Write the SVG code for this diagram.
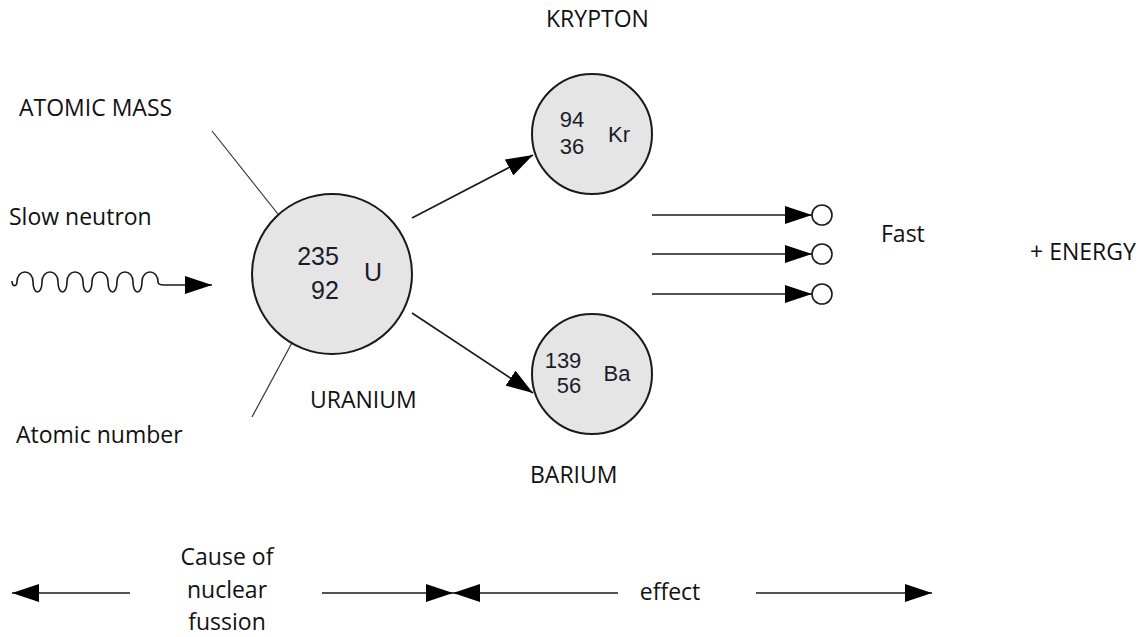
<svg xmlns="http://www.w3.org/2000/svg" width="1142" height="637" viewBox="0 0 1142 637">
<style>
.lbl{font-family:"Open Sans","Liberation Sans",sans-serif;font-size:23px;fill:#111}
.num{font-family:"Liberation Sans",Arial,sans-serif;fill:#1b1b2a}
.atom{fill:#e5e5e5;stroke:#1a1a1a;stroke-width:2}
.ln{stroke:#1a1a1a;stroke-width:1.6;fill:none}
.thin{stroke:#333;stroke-width:1.2;fill:none}
.small{fill:#fff;stroke:#1a1a1a;stroke-width:1.6}
</style>
<defs>
<marker id="ah" markerUnits="userSpaceOnUse" markerWidth="28" markerHeight="18" refX="27" refY="9" orient="auto" viewBox="0 0 28 18">
<path d="M0,0 L27,9 L0,18 z" fill="#000"/>
</marker>
</defs>
<rect width="1142" height="637" fill="#fff"/>

<g id="connectors">
<path class="ln" marker-end="url(#ah)" d="M12,281 c0,6 5,6 5,1 c0,-13.3 16,-13.3 16,0 c0,13.3 9,13.3 9,0 c0,-13.3 16,-13.3 16,0 c0,13.3 9,13.3 9,0 c0,-13.3 16,-13.3 16,0 c0,13.3 9,13.3 9,0 c0,-13.3 16,-13.3 16,0 c0,13.3 9,13.3 9,0 c0,-13.3 16,-13.3 16,0 c0,13.3 9,13.3 9,0 c0,-13.3 16,-13.3 16,0 c0,3 3,3 6,3 L212,285"/>
<line class="thin" x1="212" y1="131" x2="293" y2="233"/>
<line class="thin" x1="308" y1="313" x2="252" y2="417"/>
<line class="ln" marker-end="url(#ah)" x1="412" y1="218" x2="533" y2="155"/>
<line class="ln" marker-end="url(#ah)" x1="412" y1="313" x2="533" y2="393"/>
<line class="ln" marker-end="url(#ah)" x1="652" y1="215" x2="812" y2="215"/>
<line class="ln" marker-end="url(#ah)" x1="652" y1="254" x2="812" y2="254"/>
<line class="ln" marker-end="url(#ah)" x1="652" y1="294" x2="812" y2="294"/>
<line class="ln" marker-end="url(#ah)" x1="130" y1="593" x2="12" y2="593"/>
<line class="ln" marker-end="url(#ah)" x1="322" y1="593" x2="453" y2="593"/>
<line class="ln" marker-end="url(#ah)" x1="618" y1="593" x2="453" y2="593"/>
<line class="ln" marker-end="url(#ah)" x1="756" y1="593" x2="932" y2="593"/>
</g>

<g id="uranium">
<circle class="atom" cx="332" cy="274" r="80"/>
<text class="num" font-size="25" x="318" y="265" text-anchor="middle">235</text>
<text class="num" font-size="25" x="325" y="299" text-anchor="middle">92</text>
<text class="num" font-size="25" x="373" y="281" text-anchor="middle">U</text>
<text class="lbl" x="310" y="408">URANIUM</text>
</g>

<g id="krypton">
<circle class="atom" cx="592" cy="134" r="60"/>
<text class="num" font-size="22" x="572" y="127" text-anchor="middle">94</text>
<text class="num" font-size="22" x="572" y="154" text-anchor="middle">36</text>
<text class="num" font-size="22" x="619" y="142" text-anchor="middle">Kr</text>
<text class="lbl" x="546" y="27">KRYPTON</text>
</g>

<g id="barium">
<circle class="atom" cx="592" cy="374" r="60"/>
<text class="num" font-size="22" x="563" y="368" text-anchor="middle">139</text>
<text class="num" font-size="22" x="569" y="393" text-anchor="middle">56</text>
<text class="num" font-size="22" x="617" y="381" text-anchor="middle">Ba</text>
<text class="lbl" x="530" y="483">BARIUM</text>
</g>

<g id="fast-neutrons">
<circle class="small" cx="822" cy="215" r="10"/>
<circle class="small" cx="822" cy="254" r="10"/>
<circle class="small" cx="822" cy="294" r="10"/>
<text class="lbl" x="881" y="242">Fast</text>
</g>

<g id="labels">
<text class="lbl" x="19" y="116">ATOMIC MASS</text>
<text class="lbl" x="9" y="225">Slow neutron</text>
<text class="lbl" x="16" y="443">Atomic number</text>
<text class="lbl" x="1030" y="260">+ ENERGY</text>
<text class="lbl" x="227" y="565" text-anchor="middle">Cause of</text>
<text class="lbl" x="227" y="598" text-anchor="middle">nuclear</text>
<text class="lbl" x="227" y="630" text-anchor="middle">fussion</text>
<text class="lbl" x="670" y="600" text-anchor="middle">effect</text>
</g>
</svg>
